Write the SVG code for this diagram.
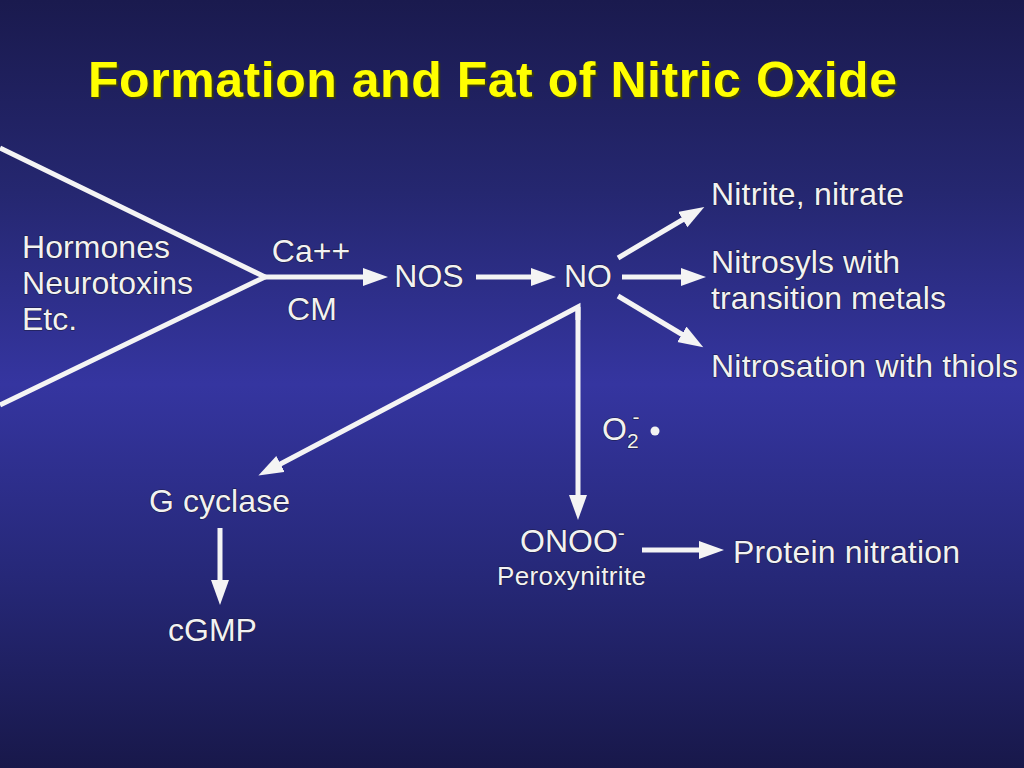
<svg xmlns="http://www.w3.org/2000/svg" width="1024" height="768" viewBox="0 0 1024 768">
<defs>
<linearGradient id="bg" x1="0" y1="0" x2="0" y2="1">
<stop offset="0" stop-color="#1a1a4e"/>
<stop offset="0.25" stop-color="#252770"/>
<stop offset="0.5" stop-color="#3535a0"/>
<stop offset="0.75" stop-color="#262878"/>
<stop offset="1" stop-color="#18184a"/>
</linearGradient>
<marker id="ah" markerUnits="userSpaceOnUse" markerWidth="26" markerHeight="20" refX="13" refY="9" orient="auto">
<path d="M0,0 L25,9 L0,18 z" fill="#f4f4f4"/>
</marker>
<style>
.t{font-family:"Liberation Sans",Arial,sans-serif;fill:#f2f2f2;stroke:#1a1a40;stroke-width:1.2;paint-order:stroke;font-size:32px;}
.l{stroke:#f4f4f4;stroke-width:5;fill:none;}
.a{marker-end:url(#ah);}
</style>
</defs>
<rect width="1024" height="768" fill="url(#bg)"/>
<g id="title">
<text x="90" y="99" font-family="Liberation Sans, Arial, sans-serif" font-weight="bold" font-size="50" fill="#3a3a10" textLength="809">Formation and Fat of Nitric Oxide</text>
<text x="88" y="97" font-family="Liberation Sans, Arial, sans-serif" font-weight="bold" font-size="50" fill="#ffff00" textLength="809">Formation and Fat of Nitric Oxide</text>
</g>
<g id="connectors">
<polyline class="l" points="0,148 265,277 0,405"/>
<line class="l a" x1="265" y1="277" x2="376" y2="277"/>
<line class="l a" x1="476" y1="277" x2="544" y2="277"/>
<line class="l a" x1="618" y1="258" x2="694" y2="213"/>
<line class="l a" x1="622" y1="277" x2="694" y2="277"/>
<line class="l a" x1="618" y1="296" x2="693" y2="341"/>
<polyline class="l a" points="578,320 578,307 269,470"/>
<line class="l a" x1="578" y1="307" x2="578" y2="508"/>
<line class="l a" x1="220" y1="528" x2="220" y2="593"/>
<line class="l a" x1="642" y1="550" x2="712" y2="550"/>
</g>
<g id="sources"><text class="t" x="22" y="258" textLength="148">Hormones</text>
<text class="t" x="22" y="294" textLength="171">Neurotoxins</text>
<text class="t" x="22" y="330">Etc.</text></g>
<g id="ca"><text class="t" x="311" y="262" text-anchor="middle">Ca++</text></g>
<g id="cm"><text class="t" x="312" y="320" text-anchor="middle">CM</text></g>
<g id="nos"><text class="t" x="429" y="287" text-anchor="middle">NOS</text></g>
<g id="no"><text class="t" x="588" y="287" text-anchor="middle">NO</text></g>
<g id="nitrite"><text class="t" x="711" y="205" textLength="193">Nitrite, nitrate</text></g>
<g id="nitrosyls"><text class="t" x="711" y="273" textLength="189">Nitrosyls with</text>
<text class="t" x="711" y="309" textLength="235">transition metals</text></g>
<g id="nitrosation"><text class="t" x="711" y="377" textLength="307">Nitrosation with thiols</text></g>
<g id="o2"><text class="t" x="602" y="440">O<tspan style="font-size:21px" dy="8">2</tspan><tspan style="font-size:21px" dx="-6" dy="-24">-</tspan></text>
<circle cx="655" cy="431" r="4.5" fill="#f2f2f2"/></g>
<g id="gcyclase"><text class="t" x="149" y="512" textLength="141">G cyclase</text></g>
<g id="cgmp"><text class="t" x="168" y="641">cGMP</text></g>
<g id="onoo"><text class="t" x="520" y="552">ONOO<tspan style="font-size:21px" dy="-12">-</tspan></text>
<text class="t" x="497" y="585" style="font-size:26px" textLength="149">Peroxynitrite</text></g>
<g id="protein"><text class="t" x="733" y="563" textLength="227">Protein nitration</text></g>
</svg>
